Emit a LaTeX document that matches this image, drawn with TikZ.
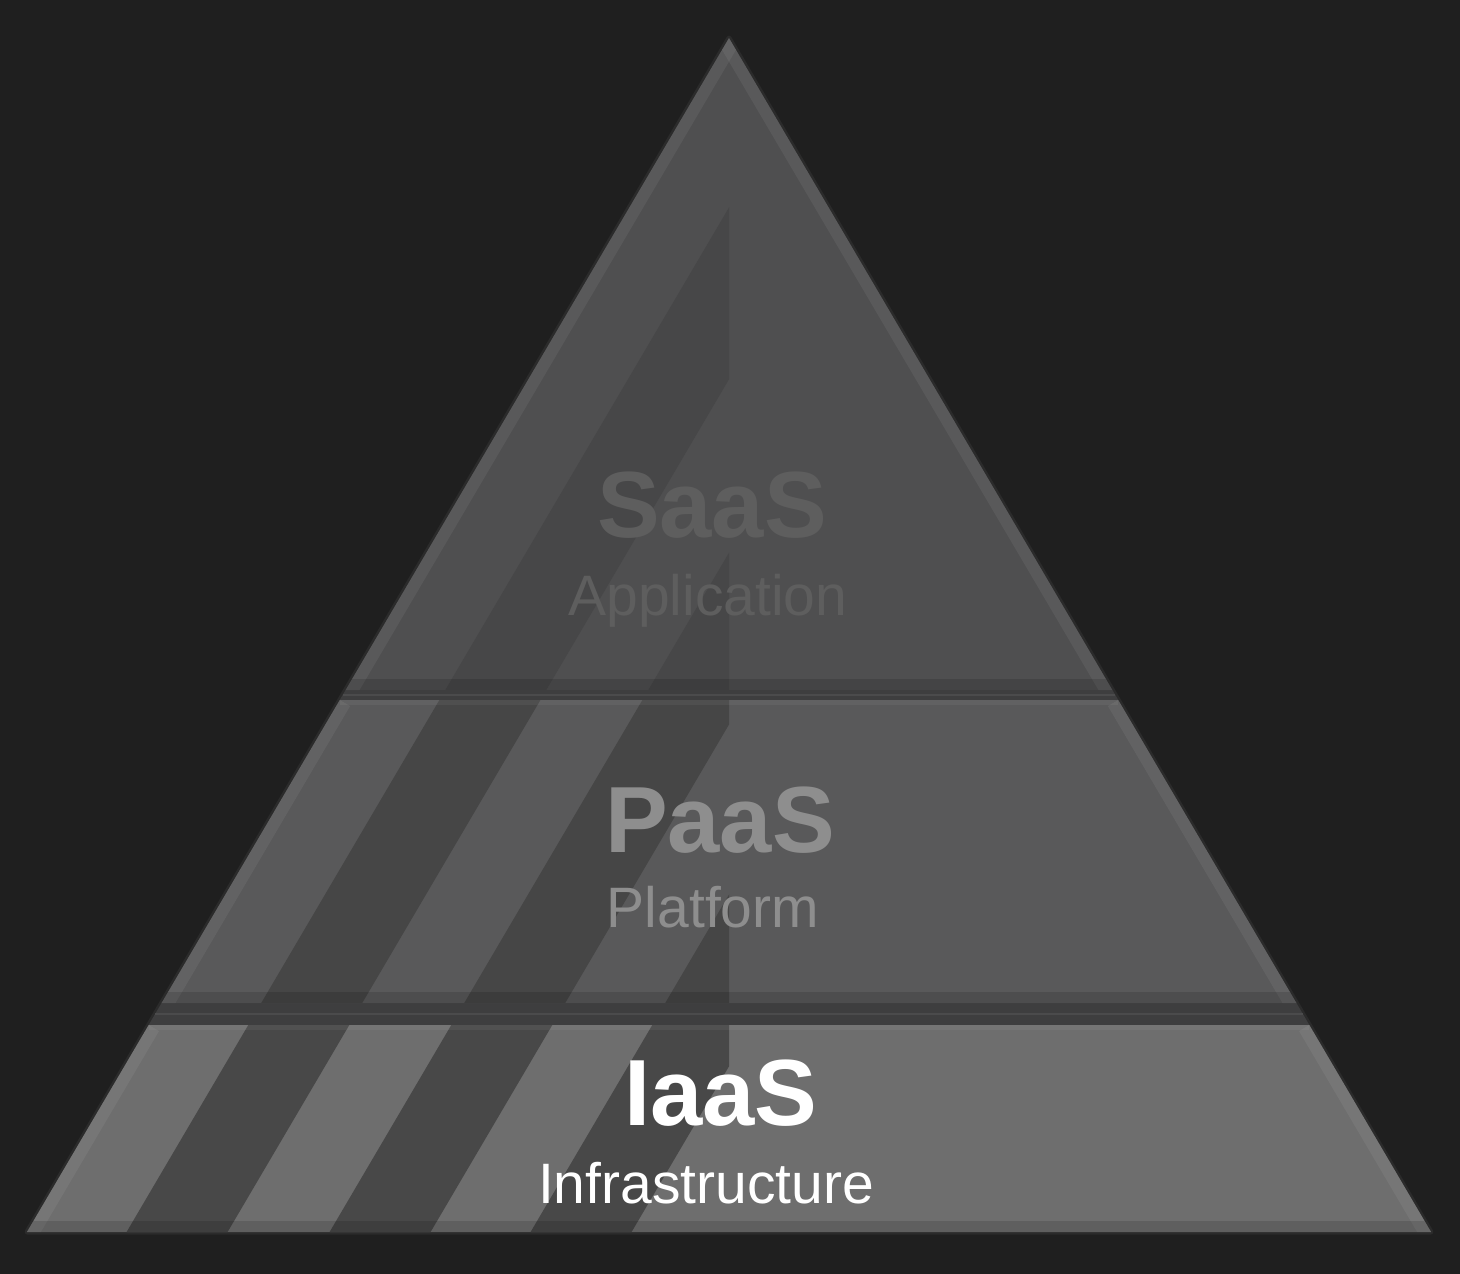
\documentclass[tikz,border=0pt]{standalone}
\usepackage{fontspec}
\setmainfont{Liberation Sans}
\usepackage{tikz}
\usetikzlibrary{calc}
\definecolor{bgDark}{HTML}{1F1F1F}
\definecolor{rimDark}{HTML}{2B2B2B}
\definecolor{bandGray}{HTML}{3E3E3F}
\definecolor{bandLine}{HTML}{4B4B4C}
\definecolor{topLite}{HTML}{4F4F50}
\definecolor{topDark}{HTML}{474748}
\definecolor{midLite}{HTML}{59595A}
\definecolor{midDark}{HTML}{464646}
\definecolor{botLite}{HTML}{6E6E6E}
\definecolor{botDark}{HTML}{484848}
\definecolor{saasText}{HTML}{5E5E5E}
\definecolor{paasText}{HTML}{8E8E8E}

\begin{document}
\begin{tikzpicture}[
    x=1pt, y=-1pt,
    layerTitle/.style={anchor=base, inner sep=0pt,
                       font=\fontsize{94}{94}\selectfont\bfseries},
    layerSub/.style={anchor=base, inner sep=0pt,
                     font=\fontsize{57}{57}\selectfont},
    band/.style={fill=bandGray},
    bandRule/.style={bandLine, line width=2.5pt},
    sideGlow/.style={white, opacity=0.06, line width=24pt},
    footShade/.style={black, opacity=0.13, line width=22pt},
  ]
    % Background
    \fill[bgDark] (0,0) rectangle (1460,1274);
    \coordinate (apex) at (729,38);
    \coordinate (baseL) at (27,1232);
    \coordinate (baseR) at (1431,1232);

    % Outer rim
    \draw[rimDark, line width=5pt, line join=round] (apex) -- (baseR) -- (baseL) -- cycle;

    % Bands between the layers
    \foreach \ya/\yb in {690/700, 1003/1025} {
      \pgfmathsetmacro\xla{729-0.588*(\ya-38)}
      \pgfmathsetmacro\xra{729+0.588*(\ya-38)}
      \pgfmathsetmacro\xlb{729-0.588*(\yb-38)}
      \pgfmathsetmacro\xrb{729+0.588*(\yb-38)}
      \pgfmathsetmacro\ym{(\ya+\yb)/2}
      \pgfmathsetmacro\xlm{729-0.588*(\ym-38)}
      \pgfmathsetmacro\xrm{729+0.588*(\ym-38)}
      \fill[band] (\xla,\ya) -- (\xra,\ya) -- (\xrb,\yb) -- (\xlb,\yb) -- cycle;
      \draw[bandRule] (\xlm,\ym) -- (\xrm,\ym);
    }

    % Layers: faces, stripes, bevels
    \foreach \ya/\yb/\lite/\dark in {38/690/topLite/topDark, 700/1003/midLite/midDark, 1025/1232/botLite/botDark} {
      \pgfmathsetmacro\xla{729-0.588*(\ya-38)}
      \pgfmathsetmacro\xra{729+0.588*(\ya-38)}
      \pgfmathsetmacro\xlb{729-0.588*(\yb-38)}
      \pgfmathsetmacro\xrb{729+0.588*(\yb-38)}
      \fill[\lite] (\xla,\ya) -- (\xra,\ya) -- (\xrb,\yb) -- (\xlb,\yb) -- cycle;
      \begin{scope}
        \clip (\xla,\ya) -- (\xra,\ya) -- (\xrb,\yb) -- (\xlb,\yb) -- cycle;
        \begin{scope}
          \clip (0,0) rectangle (729,1274);
          \foreach \c in {851,1054,1255} {
            \fill[\dark] ({\c-0.588*\ya},\ya) -- ({\c+101-0.588*\ya},\ya)
              -- ({\c+101-0.588*\yb},\yb) -- ({\c-0.588*\yb},\yb) -- cycle;
          }
        \end{scope}
        \draw[sideGlow] (\xla,\ya) -- (\xlb,\yb);
        \draw[sideGlow] (\xra,\ya) -- (\xrb,\yb);
        \draw[white, opacity=0.05, line width=10pt] (\xla,\ya) -- (\xra,\ya);
        \draw[footShade] (\xlb,\yb) -- (\xrb,\yb);
      \end{scope}
    }

    % Labels
    \node[layerTitle, saasText] (saas) at (712,537) {SaaS};
    \node[layerSub, saasText] (saasSub) at (708,615) {Application};
    \node[layerTitle, paasText] (paas) at (720,852) {PaaS};
    \node[layerSub, paasText] (paasSub) at (713,927) {Platform};
    \node[layerTitle, white] (iaas) at (721,1125) {IaaS};
    \node[layerSub, white] (iaasSub) at (706,1203) {Infrastructure};
  \end{tikzpicture}
\end{document}
